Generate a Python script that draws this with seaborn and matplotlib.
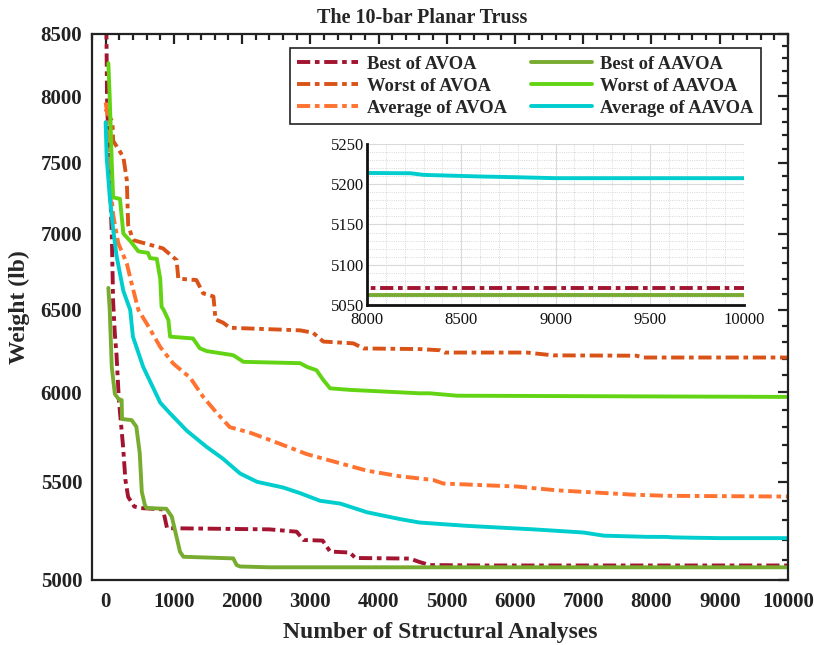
import numpy as np
import pandas as pd
import seaborn as sns
import matplotlib
matplotlib.use("Agg")
import matplotlib.pyplot as plt
from matplotlib.ticker import FixedLocator, NullFormatter, FuncFormatter, MultipleLocator

# convergence histories (x = structural analyses, y = weight in lb)
best_avoa_x = [0, 20, 50, 90, 110, 135, 160, 195, 254, 290, 330, 420, 500, 840, 900,
               2400, 2800, 2900, 3180, 3290, 3580, 3660, 4460, 4600, 4750, 5500, 10000]
best_avoa_y = [9300, 8000, 7500, 7000, 6550, 6350, 6220, 5950, 5700, 5510, 5420, 5370, 5362, 5355, 5258,
               5252, 5240, 5198, 5195, 5140, 5135, 5108, 5105, 5088, 5073, 5071, 5071]

worst_avoa_x = [0, 100, 110, 260, 310, 330, 400, 840, 1040, 1065, 1330, 1430, 1580, 1610, 1720, 1820,
                2850, 3040, 3190, 3630, 3780, 4600, 4900, 4970, 6170, 6560, 7780, 7880, 10000]
worst_avoa_y = [7900, 7800, 7660, 7540, 7374, 7060, 6956, 6900, 6822, 6700, 6691, 6605, 6585, 6440, 6420, 6388,
                6372, 6357, 6303, 6292, 6261, 6257, 6250, 6236, 6236, 6219, 6217, 6206, 6206]

avg_avoa_x = [0, 15, 40, 65, 110, 185, 310, 380, 480, 650, 800, 990, 1240, 1430, 1630, 1820, 2110, 2410,
              2950, 3340, 3830, 4310, 4800, 4950, 6030, 6610, 7730, 8220, 10000]
avg_avoa_y = [7950, 7900, 7800, 7370, 7130, 6935, 6800, 6670, 6500, 6380, 6270, 6170, 6085, 5973, 5880, 5800, 5770, 5728,
              5650, 5610, 5560, 5530, 5510, 5491, 5475, 5455, 5432, 5426, 5422]

best_aavoa_x = [40, 60, 90, 135, 200, 235, 240, 380, 450, 500, 530, 575, 600, 890, 970, 1090, 1140,
                1870, 1920, 1970, 2400, 10000]
best_aavoa_y = [6640, 6500, 6150, 5990, 5955, 5955, 5846, 5840, 5803, 5655, 5447, 5378, 5362, 5358, 5317, 5139, 5114,
                5106, 5073, 5066, 5062, 5062]

worst_aavoa_x = [40, 60, 90, 110, 210, 260, 360, 480, 620, 650, 750, 800, 820, 850, 920, 945, 1280, 1380, 1480,
                 1870, 2020, 2850, 2950, 3090, 3190, 3290, 3580, 4600, 4750, 5150, 10000]
worst_aavoa_y = [8260, 7990, 7500, 7250, 7240, 7000, 6950, 6880, 6870, 6835, 6830, 6700, 6520, 6500, 6436, 6333, 6322, 6262, 6245,
                 6220, 6180, 6172, 6150, 6130, 6072, 6023, 6014, 5994, 5994, 5980, 5973]

avg_aavoa_x = [0, 15, 60, 110, 160, 260, 360, 400, 550, 800, 940, 1190, 1480, 1720, 1970, 2220, 2600, 2850,
               3140, 3440, 3830, 4310, 4600, 5290, 6270, 7000, 7300, 7930, 8230, 8300, 8600, 8810, 9000, 10000]
avg_aavoa_y = [7800, 7540, 7255, 7030, 6850, 6620, 6500, 6333, 6150, 5940, 5880, 5780, 5690, 5625, 5545, 5500, 5470, 5440,
               5400, 5385, 5340, 5305, 5287, 5270, 5252, 5236, 5220, 5214, 5213.5, 5211.5, 5209.5, 5208.5, 5207.4, 5207.4]

y_ticks = [5000, 5500, 6000, 6500, 7000, 7500, 8000, 8500]
x_ticks = [0, 1000, 2000, 3000, 4000, 5000, 6000, 7000, 8000, 9000, 10000]

sns.set_style("white")
plt.rcParams['font.family'] = ['Liberation Serif', 'DejaVu Serif']

dashdot = (0, (3.4, 1.2, 1.2, 1.2))
series = [
    ("Best of AVOA", best_avoa_x, best_avoa_y, "#A2142F", dashdot),
    ("Worst of AVOA", worst_avoa_x, worst_avoa_y, "#D95319", dashdot),
    ("Average of AVOA", avg_avoa_x, avg_avoa_y, "#FF7230", dashdot),
    ("Best of AAVOA", best_aavoa_x, best_aavoa_y, "#77AC30", "-"),
    ("Worst of AAVOA", worst_aavoa_x, worst_aavoa_y, "#62D414", "-"),
    ("Average of AAVOA", avg_aavoa_x, avg_aavoa_y, "#00CDCD", "-"),
]

fig = plt.figure(figsize=(8.14, 6.45), dpi=100)
ax = fig.add_axes([0.113, 0.1008, 0.855, 0.847])

for name, xs, ys, col, ls in series:
    d = pd.DataFrame({"x": xs, "y": ys})
    sns.lineplot(data=d, x="x", y="y", ax=ax, color=col, linestyle=ls, lw=2.8,
                 label=name, estimator=None, sort=False)

ax.set_yscale("log")
ax.set_xlim(-200, 10000)
ax.set_ylim(5000, 8500)
ax.yaxis.set_major_locator(FixedLocator(y_ticks))
ax.yaxis.set_major_formatter(FuncFormatter(lambda v, p: f"{v:.0f}"))
ax.yaxis.set_minor_locator(FixedLocator([v for v in range(5000, 8501, 100) if v % 500]))
ax.yaxis.set_minor_formatter(NullFormatter())
ax.xaxis.set_major_locator(FixedLocator(x_ticks))
ax.xaxis.set_minor_locator(MultipleLocator(200))

ax.tick_params(which="both", direction="in", top=True, right=True, width=1.6, colors="#222222")
ax.tick_params(which="major", length=7, labelsize=15)
ax.tick_params(which="minor", length=4)
ax.tick_params(axis="x", which="major", pad=9)
ax.tick_params(axis="y", which="major", pad=7)
for lab in ax.get_xticklabels() + ax.get_yticklabels():
    lab.set_fontweight("bold")
for s in ax.spines.values():
    s.set_color("#222222")
    s.set_linewidth(1.6)

ax.set_xlabel("Number of Structural Analyses", fontsize=17, fontweight="bold", labelpad=7)
ax.set_ylabel("Weight (lb)", fontsize=17, fontweight="bold", labelpad=8)
ax.set_title("The 10-bar Planar Truss", fontsize=14.5, fontweight="bold", pad=8, x=0.475)

leg = ax.legend(loc="upper right", bbox_to_anchor=(0.974, 0.99), ncol=2, fancybox=False,
                framealpha=1, edgecolor="#222222", prop={"weight": "bold", "size": 13.3},
                handlelength=3.3, columnspacing=1.3, labelspacing=0.27, borderpad=0.4,
                handletextpad=0.45)
leg.get_frame().set_linewidth(1.2)

# zoomed inset for the final part of the run
axin = fig.add_axes([0.451, 0.527, 0.463, 0.250])
for name, xs, ys, col, ls in series:
    d = pd.DataFrame({"x": xs, "y": ys})
    sns.lineplot(data=d, x="x", y="y", ax=axin, color=col, linestyle=ls, lw=2.8,
                 estimator=None, sort=False, legend=False)
axin.set_xlim(8000, 10000)
axin.set_ylim(5050, 5250)
axin.set_xlabel("")
axin.set_ylabel("")
axin.xaxis.set_major_locator(MultipleLocator(500))
axin.xaxis.set_minor_locator(MultipleLocator(100))
axin.yaxis.set_major_locator(MultipleLocator(50))
axin.yaxis.set_minor_locator(MultipleLocator(10))
axin.grid(which="major", color="#d9d9d9", lw=0.8)
axin.grid(which="minor", color="#cccccc", lw=0.6, ls=":")
axin.tick_params(which="both", direction="in", colors="#111111", width=1.4)
axin.tick_params(which="major", length=5, labelsize=12, pad=2)
axin.tick_params(axis="x", which="major", pad=5)
axin.tick_params(which="minor", length=3)
axin.spines["top"].set_visible(False)
axin.spines["right"].set_visible(False)
for k in ("left", "bottom"):
    axin.spines[k].set_color("#111111")
    axin.spines[k].set_linewidth(2)

fig.savefig("out.png", dpi=100)
